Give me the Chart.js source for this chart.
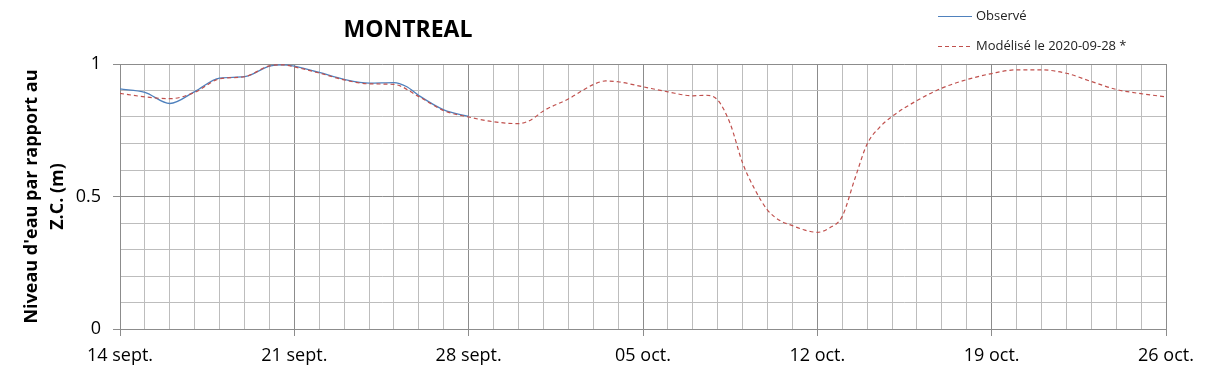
<!DOCTYPE html>
<html>
<head>
<meta charset="utf-8">
<script src="https://cdn.jsdelivr.net/npm/chart.js@4/dist/chart.umd.min.js"></script>
<style>
  html, body { margin: 0; padding: 0; background: #fff; }
  #wrap { width: 1209px; height: 378px; }
</style>
</head>
<body>
<div id="wrap"><canvas id="canvas" width="1209" height="378"></canvas></div>
<script>
// days after 14 sept. 2020
var tickLabels = ['14 sept.', '21 sept.', '28 sept.', '05 oct.', '12 oct.', '19 oct.', '26 oct.'];

var obsDays = [0, 1, 2, 3, 4, 5, 6, 6.5, 7, 8, 9, 10, 11, 11.5, 12, 13, 14];
var obsVals = [0.906, 0.893, 0.851, 0.896, 0.947, 0.952, 0.992, 0.997, 0.992, 0.968, 0.942, 0.928, 0.930, 0.915, 0.881, 0.827, 0.802];

var modDays = [0, 1, 2, 3, 4, 5, 6, 6.5, 7, 8, 9, 10, 11, 12, 13, 14, 15, 16, 16.5, 17, 18, 19, 19.5, 20, 21, 22, 23, 23.5, 24, 24.5, 25, 25.5, 26, 26.5, 27, 27.5, 28, 28.5, 29, 29.5, 30, 30.5, 31, 32, 33, 34, 35, 36, 37, 38, 39, 40, 41, 42];
var modVals = [0.889, 0.876, 0.869, 0.893, 0.944, 0.952, 0.993, 0.997, 0.989, 0.966, 0.940, 0.925, 0.923, 0.877, 0.824, 0.800, 0.782, 0.775, 0.789, 0.823, 0.868, 0.922, 0.936, 0.933, 0.914, 0.895, 0.880, 0.882, 0.864, 0.775, 0.626, 0.525, 0.449, 0.409, 0.390, 0.373, 0.365, 0.382, 0.425, 0.565, 0.698, 0.761, 0.802, 0.862, 0.909, 0.941, 0.964, 0.978, 0.978, 0.965, 0.934, 0.904, 0.888, 0.876];

var FONT = '"Open Sans", "Liberation Sans", sans-serif';
var BLUE = '#4F81BD';
var RED = '#C0504D';

function toPoints(xs, ys) {
    var pts = [];
    for (var i = 0; i < xs.length; i++) pts.push({x: xs[i], y: ys[i]});
    return pts;
}

// title and legend are placed like the original spreadsheet chart
var decorPlugin = {
    id: 'decor',
    afterDraw: function(chart) {
        var ctx = chart.ctx;
        ctx.save();
        ctx.fillStyle = '#000';
        ctx.font = 'bold 23px ' + FONT;
        ctx.textAlign = 'center';
        ctx.textBaseline = 'middle';
        ctx.fillText('MONTREAL', 408, 30);

        ctx.font = '13px ' + FONT;
        ctx.textAlign = 'left';
        ctx.lineWidth = 1;
        ctx.strokeStyle = BLUE;
        ctx.beginPath(); ctx.moveTo(938, 16.5); ctx.lineTo(972, 16.5); ctx.stroke();
        ctx.fillStyle = '#222';
        ctx.fillText('Observé', 976, 16);
        ctx.strokeStyle = RED;
        ctx.setLineDash([4, 3]);
        ctx.beginPath(); ctx.moveTo(938, 46.5); ctx.lineTo(972, 46.5); ctx.stroke();
        ctx.setLineDash([]);
        ctx.fillText('Modélisé le 2020-09-28 *', 976, 46);
        ctx.restore();
    }
};

var config = {
    type: 'scatter',
    data: {
        datasets: [
            {
                label: 'Modélisé le 2020-09-28 *',
                data: toPoints(modDays, modVals),
                showLine: true,
                borderColor: RED,
                borderWidth: 1.2,
                borderDash: [4, 3],
                pointRadius: 0,
                cubicInterpolationMode: 'monotone',
                fill: false
            },
            {
                label: 'Observé',
                data: toPoints(obsDays, obsVals),
                showLine: true,
                borderColor: BLUE,
                borderWidth: 1.3,
                pointRadius: 0,
                cubicInterpolationMode: 'monotone',
                fill: false
            }
        ]
    },
    options: {
        responsive: false,
        animation: false,
        layout: { padding: { top: 64, right: 43, left: 0, bottom: 0 } },
        plugins: {
            legend: { display: false },
            tooltip: { enabled: false }
        },
        scales: {
            x: {
                type: 'linear',
                min: 0,
                max: 42,
                afterFit: function(s) { s.height = 49; },
                afterBuildTicks: function(s) {
                    var t = [];
                    for (var d = 0; d <= 42; d++) t.push({value: d});
                    s.ticks = t;
                },
                ticks: {
                    autoSkip: false,
                    maxRotation: 0,
                    padding: 9,
                    color: '#000',
                    font: { family: FONT, size: 18 },
                    callback: function(v) { return v % 7 === 0 ? tickLabels[v / 7] : ''; }
                },
                grid: {
                    color: function(c) { return c.tick && c.tick.value % 7 === 0 ? '#8c8c8c' : '#bdbdbd'; },
                    tickColor: function(c) { return c.tick && c.tick.value % 7 === 0 ? '#8c8c8c' : 'rgba(0,0,0,0)'; },
                    tickLength: 7,
                    lineWidth: 1
                },
                border: { color: '#8c8c8c' }
            },
            y: {
                min: 0,
                max: 1,
                afterFit: function(s) { s.width = 120; },
                ticks: {
                    stepSize: 0.1,
                    padding: 12,
                    color: '#000',
                    font: { family: FONT, size: 18 },
                    callback: function(v) {
                        var r = Math.round(v * 10);
                        if (r === 0) return '0';
                        if (r === 5) return '0.5';
                        if (r === 10) return '1';
                        return '';
                    }
                },
                grid: {
                    color: function(c) { var r = Math.round(c.tick.value * 10); return r % 5 === 0 ? '#8c8c8c' : '#bdbdbd'; },
                    tickColor: function(c) { var r = Math.round(c.tick.value * 10); return r % 5 === 0 ? '#8c8c8c' : 'rgba(0,0,0,0)'; },
                    tickLength: 7
                },
                border: { color: '#8c8c8c' },
                title: {
                    display: true,
                    text: ["Niveau d'eau par rapport au", 'Z.C. (m)'],
                    color: '#000',
                    font: { family: FONT, size: 18, weight: 'bold', lineHeight: 1.45 },
                    padding: { top: 19, bottom: 0 }
                }
            }
        }
    },
    plugins: [decorPlugin]
};

window.onload = function() {
    var ctx = document.getElementById('canvas').getContext('2d');
    window.myLine = new Chart(ctx, config);
};
</script>
</body>
</html>
